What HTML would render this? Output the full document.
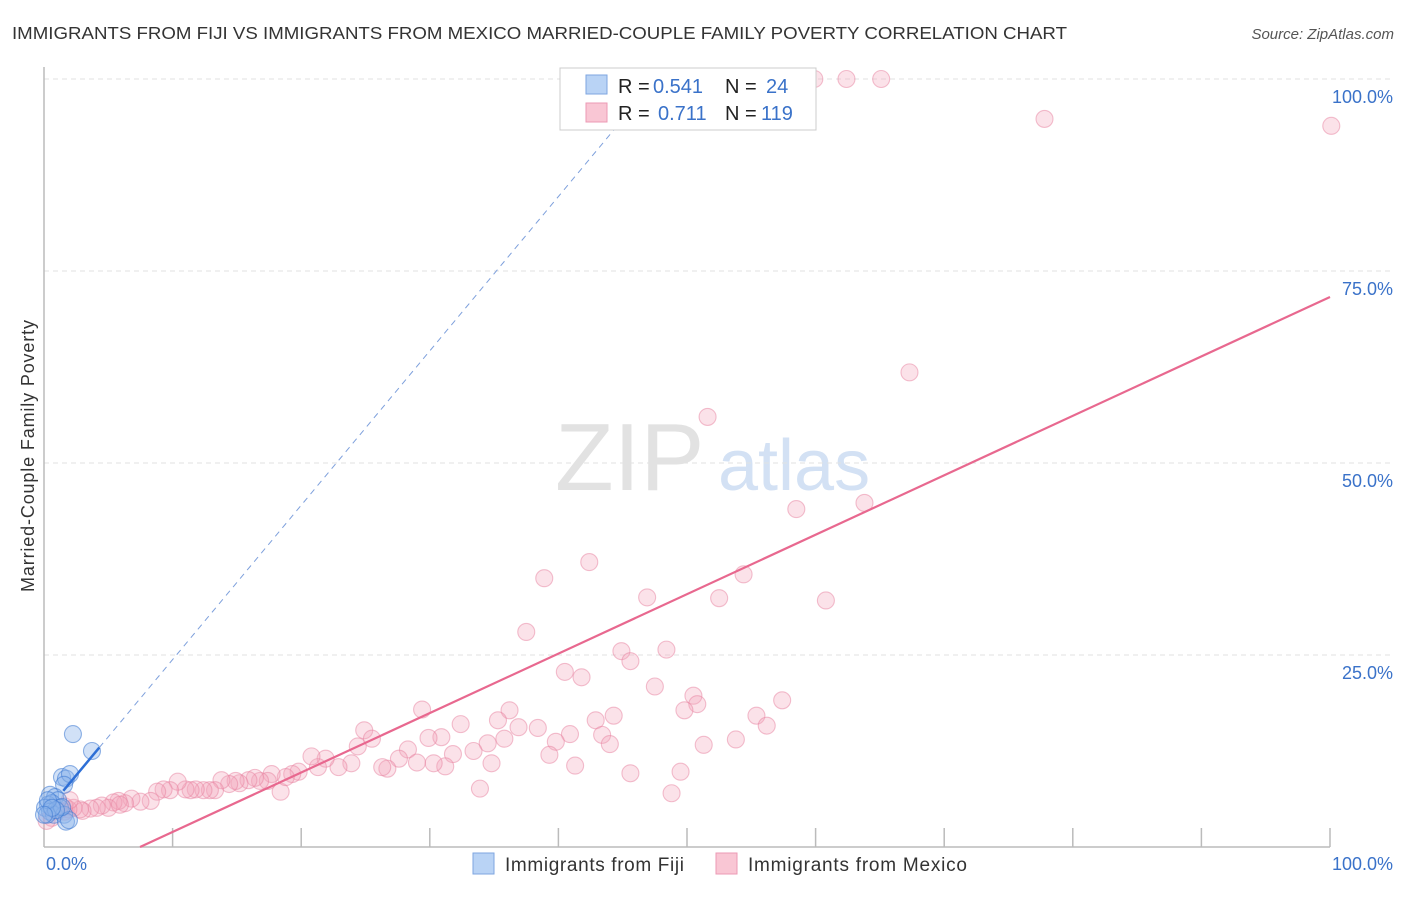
<!DOCTYPE html>
<html><head><meta charset="utf-8"><style>
body{margin:0;background:#fff;font-family:"Liberation Sans",sans-serif;}
svg text{font-family:"Liberation Sans",sans-serif;}
</style></head><body>
<svg id="chart" width="1406" height="892">
<text x="12" y="39" font-size="17.5" fill="#333" textLength="1055" lengthAdjust="spacingAndGlyphs">IMMIGRANTS FROM FIJI VS IMMIGRANTS FROM MEXICO MARRIED-COUPLE FAMILY POVERTY CORRELATION CHART</text>
<text x="1394" y="39" font-size="15" fill="#555" font-style="italic" text-anchor="end">Source: ZipAtlas.com</text>
<text x="0" y="0" transform="translate(34,456) rotate(-90)" font-size="18" fill="#333" text-anchor="middle" textLength="272">Married-Couple Family Poverty</text>
<text x="555" y="490" font-size="96" fill="#e2e2e2" font-family="Liberation Serif">ZIP</text>
<text x="718" y="490" font-size="72" fill="#d3e1f4">atlas</text>
<g id="grid"></g><g id="axes"></g><g id="pts"></g><g id="lines"></g>
<g>
<rect x="560" y="68" width="256" height="62" fill="#fff" stroke="#ccc"/>
<rect x="586" y="75" width="21" height="19" fill="#b9d3f5" stroke="#7ea6e0"/>
<text x="618" y="93" font-size="20" fill="#222">R =</text>
<text x="653" y="93" font-size="20" fill="#3a72c9">0.541</text>
<text x="725" y="93" font-size="20" fill="#222">N =</text>
<text x="766" y="93" font-size="20" fill="#3a72c9">24</text>
<rect x="586" y="103" width="21" height="19" fill="#f9c6d4" stroke="#ec9ab4"/>
<text x="618" y="120" font-size="20" fill="#222">R =</text>
<text x="658" y="120" font-size="20" fill="#3a72c9">0.711</text>
<text x="725" y="120" font-size="20" fill="#222">N =</text>
<text x="761" y="120" font-size="20" fill="#3a72c9">119</text>
</g>
<g>
<rect x="473" y="853" width="21" height="21" fill="#b9d3f5" stroke="#7ea6e0"/>
<text x="505" y="871" font-size="19" fill="#333" textLength="179">Immigrants from Fiji</text>
<rect x="716" y="853" width="21" height="21" fill="#f9c6d4" stroke="#ec9ab4"/>
<text x="748" y="871" font-size="19" fill="#333" textLength="219">Immigrants from Mexico</text>
</g>
</svg>
<script>
const yTicks=[25,50,75,100];
const yTickLabels=["25.0%","50.0%","75.0%","100.0%"];
const xTicks=[0,10,20,30,40,50,60,70,80,90,100];
const fijiX=[2.25,3.73,1.40,1.71,2.02,1.56,0.47,0.86,1.09,0.31,0.62,0.08,1.24,0.47,0.78,0.23,1.56,1.71,1.94,1.40,0.93,0.31,0.62,0.0];
const fijiY=[14.7,12.5,9.1,8.9,9.5,8.1,6.8,6.5,6.1,5.5,5.7,5.1,5.1,4.6,4.2,4.2,4.2,3.3,3.5,5.2,4.8,6.1,5.1,4.2];
const mexX=[57.6,59.9,62.4,65.1,77.8,100.1,67.3,51.6,58.5,63.8,38.9,42.4,54.4,60.8,46.9,52.5,37.5,40.5,41.8,44.9,45.6,48.4,47.5,50.5,50.8,49.8,57.4,55.4,56.2,53.8,51.3,49.5,48.8,45.6,44.3,42.9,43.4,44.0,40.9,39.8,39.3,41.3,38.4,36.9,36.2,35.3,35.8,34.5,34.8,33.9,32.4,33.4,31.8,31.2,30.3,30.9,29.9,29.4,28.3,29.0,27.6,26.7,26.3,24.9,25.5,24.4,23.9,22.9,21.9,21.3,20.8,19.8,19.3,18.4,18.8,17.7,17.4,16.8,16.4,15.9,15.2,14.9,14.4,13.8,13.3,12.9,12.4,11.8,11.4,11.0,10.4,9.8,9.3,8.8,8.3,7.5,6.8,6.3,5.8,5.4,5.0,4.5,4.1,3.6,3.0,2.8,2.3,1.9,1.6,1.1,0.6,0.2,1.6,2.0,5.9];
const mexY=[100,100,100,100,94.8,93.9,61.8,56.0,44.0,44.8,35.0,37.1,35.5,32.1,32.5,32.4,28.0,22.8,22.1,25.5,24.2,25.7,20.9,19.7,18.6,17.8,19.1,17.1,15.8,14.0,13.3,9.8,7.0,9.6,17.1,16.5,14.6,13.4,14.7,13.7,12.0,10.6,15.5,15.6,17.8,16.5,14.1,13.5,10.9,7.6,16.0,12.5,12.1,10.5,10.9,14.3,14.2,17.9,12.7,11.0,11.5,10.2,10.4,15.2,14.1,13.1,10.9,10.4,11.5,10.4,11.8,9.8,9.5,7.2,9.1,9.5,8.6,8.6,9.0,8.7,8.3,8.6,8.2,8.7,7.4,7.4,7.4,7.5,7.4,7.5,8.5,7.4,7.5,7.2,6.0,5.9,6.3,5.7,6.0,5.8,5.1,5.4,5.1,5.0,4.7,4.9,5.1,4.9,5.3,4.7,3.8,3.4,4.6,6.1,5.5];
const mexTrend=[-5.78,0.774]; // intercept, slope
const fijiTrend=[4.3,2.01];
const L=44,R=1330,T=79,B=847;
const sx=v=>L+(R-L)*v/100, sy=v=>B-(B-T)*v/100;
const NS="http://www.w3.org/2000/svg";
function mk(tag,attrs,parent){const e=document.createElementNS(NS,tag);for(const k in attrs)e.setAttribute(k,attrs[k]);document.getElementById(parent).appendChild(e);return e;}
yTicks.forEach((t,i)=>{
 const g=mk("line",{x1:L,x2:1394,y1:sy(t),y2:sy(t),stroke:"#e2e2e2","stroke-dasharray":"5,4"},"grid");
 
 
 const tx=mk("text",{x:1393,y:sy(t)+24,"font-size":18,fill:"#3a72c9","text-anchor":"end"},"axes");
 tx.textContent=yTickLabels[i];
 
 
});
const ax=mk("line",{x1:L,x2:L,y1:67,y2:B,stroke:"#bbb","stroke-width":1.5},"axes");


const bx=mk("line",{x1:L,x2:R,y1:B,y2:B,stroke:"#bbb","stroke-width":1.5},"axes");


xTicks.forEach(t=>{if(t===0)return;const l=mk("line",{x1:sx(t),x2:sx(t),y1:828,y2:B,stroke:"#bbb","stroke-width":1.5},"axes");
 
 });
const x0=mk("text",{x:46,y:870,"font-size":18,fill:"#3a72c9"},"axes");x0.textContent="0.0%";


const x1=mk("text",{x:1393,y:870,"font-size":18,fill:"#3a72c9","text-anchor":"end"},"axes");x1.textContent="100.0%";


mexX.forEach((x,i)=>{const c=mk("circle",{cx:sx(x),cy:sy(mexY[i]),r:8.5,fill:"rgba(244,165,188,0.32)",stroke:"rgba(232,130,160,0.5)","stroke-width":1.1},"pts");
 
 });
fijiX.forEach((x,i)=>{const c=mk("circle",{cx:sx(x),cy:sy(fijiY[i]),r:8.5,fill:"rgba(140,180,235,0.4)",stroke:"rgba(60,120,210,0.55)","stroke-width":1.1},"pts");
 
 });
const xs=-mexTrend[0]/mexTrend[1];
const ml=mk("line",{x1:sx(xs),y1:sy(0),x2:sx(100),y2:sy(mexTrend[0]+mexTrend[1]*100),stroke:"#e8688f","stroke-width":2.2},"lines");


const xe=(100-fijiTrend[0])/fijiTrend[1];
const fd=mk("line",{x1:sx(4.3),y1:sy(fijiTrend[0]+fijiTrend[1]*4.3),x2:sx(xe),y2:sy(100),stroke:"#7ea0dc","stroke-width":1,"stroke-dasharray":"6,5"},"lines");


const fs=mk("line",{x1:sx(1.5),y1:sy(fijiTrend[0]+fijiTrend[1]*1.5),x2:sx(4.3),y2:sy(fijiTrend[0]+fijiTrend[1]*4.3),stroke:"#2e6fd6","stroke-width":2.5},"lines");


</script>
</body></html>
